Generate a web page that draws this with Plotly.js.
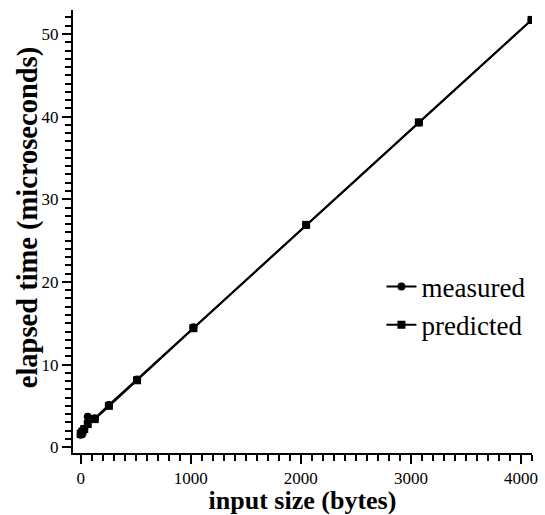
<!DOCTYPE html>
<html>
<head>
<meta charset="utf-8">
<script src="https://cdn.plot.ly/plotly-3.0.1.min.js"></script>
<style>html,body{margin:0;padding:0;background:#fff;}#chart{width:545px;height:515px;}</style>
</head>
<body>
<div id="chart"></div>
<script>
const sizes = [0, 8, 16, 32, 64, 128, 256, 512, 1024, 2048, 3072, 4096];
const measured = [1.5, 1.7, 1.9, 2.2, 3.7, 3.5, 5.1, 8.2, 14.5, 26.9, 39.3, 51.7];
const predicted = [1.6, 1.7, 1.9, 2.2, 2.8, 3.4, 5.0, 8.1, 14.4, 26.9, 39.3, 51.7];
const xMajorStep = 1000, xMinorStep = 100;
const yMajorStep = 10, yMinorStep = 1;

const serif = "Liberation Serif, Times New Roman, serif";
const xRange = [-70, 4100];
const yRange = [-0.7, 52.9];

const traces = [
  {x: sizes, y: measured, name: 'measured', mode: 'lines+markers',
   line: {color: '#000', width: 2}, marker: {symbol: 'circle', size: 8, color: '#000'}},
  {x: sizes, y: predicted, name: 'predicted', mode: 'lines+markers',
   line: {color: '#000', width: 2}, marker: {symbol: 'square', size: 8, color: '#000'}}
];
const layout = {
  width: 545, height: 515,
  margin: {l: 73, r: 13, t: 10, b: 62, autoexpand: false},
  paper_bgcolor: '#fff', plot_bgcolor: '#fff',
  font: {family: serif, color: '#000'},
  showlegend: true,
  legend: {x: 0.672, y: 0.43, xanchor: 'left', yanchor: 'top',
           font: {family: serif, size: 27, color: '#000'}, bgcolor: 'rgba(0,0,0,0)', tracegroupgap: 0},
  xaxis: {
    range: xRange, showgrid: false, zeroline: false,
    showline: true, linecolor: '#000', linewidth: 2,
    tickmode: 'linear', tick0: 0, dtick: xMajorStep,
    ticks: 'outside', ticklen: 9, tickwidth: 2, tickcolor: '#000',
    minor: {tickmode: 'linear', tick0: 0, dtick: xMinorStep, ticks: 'outside', ticklen: 6, tickwidth: 2, tickcolor: '#000', showgrid: false},
    tickfont: {family: serif, size: 17, color: '#000'},
    title: {text: '<b>input size (bytes)</b>', font: {family: serif, size: 26, color: '#000'}, standoff: 10}
  },
  yaxis: {
    range: yRange, showgrid: false, zeroline: false,
    showline: true, linecolor: '#000', linewidth: 2,
    tickmode: 'linear', tick0: 0, dtick: yMajorStep,
    ticks: 'outside', ticklen: 9, tickwidth: 2, tickcolor: '#000',
    minor: {tickmode: 'linear', tick0: 0, dtick: yMinorStep, ticks: 'outside', ticklen: 6, tickwidth: 2, tickcolor: '#000', showgrid: false},
    tickfont: {family: serif, size: 17, color: '#000'}
  },
  annotations: [{
    text: '<b>elapsed time (microseconds)</b>', textangle: -90,
    xref: 'paper', yref: 'paper', x: 0, y: 0.53, xanchor: 'center', yanchor: 'middle',
    xshift: -45, showarrow: false,
    font: {family: serif, size: 28.5, color: '#000'}
  }]
};
Plotly.newPlot('chart', traces, layout, {displayModeBar: false, staticPlot: true});
</script>
</body>
</html>
